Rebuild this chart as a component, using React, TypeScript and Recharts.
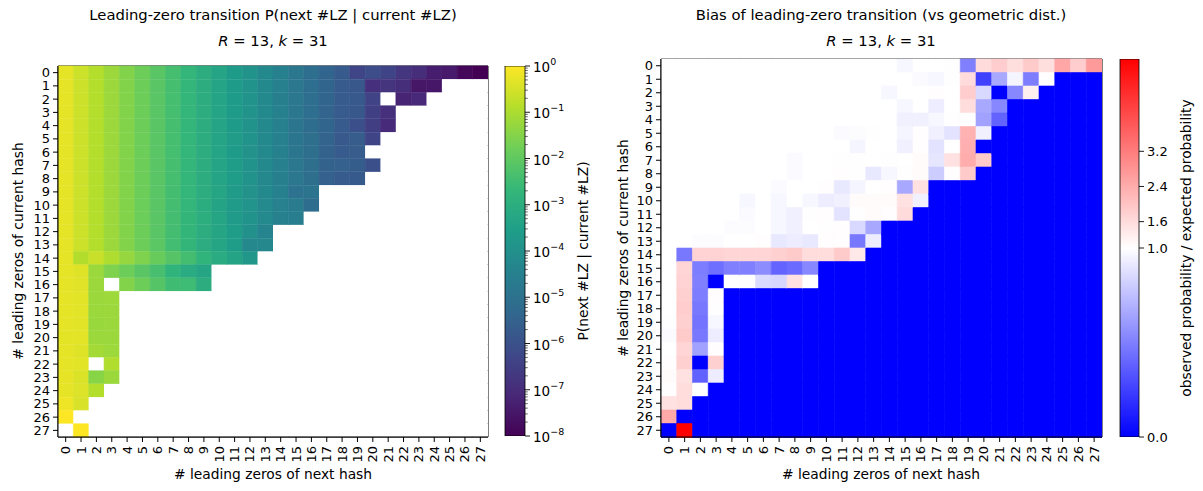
import React from 'react'
import { BarChart, Bar, Cell, XAxis, YAxis, ReferenceArea } from 'recharts'

const _ = null

// axis categories: leading-zero counts
const nextLZ = [0, 1, 2, 3, 4, 5, 6, 7, 8, 9, 10, 11, 12, 13, 14, 15, 16, 17, 18, 19, 20, 21, 22, 23, 24, 25, 26, 27]
const currentLZ = [0, 1, 2, 3, 4, 5, 6, 7, 8, 9, 10, 11, 12, 13, 14, 15, 16, 17, 18, 19, 20, 21, 22, 23, 24, 25, 26, 27]

// log10 P(next #LZ | current #LZ), one row per current #LZ (null = no observation)
const probLog10 = [
  [-0.30, -0.60, -0.90, -1.20, -1.51, -1.81, -2.11, -2.41, -2.71, -3.01, -3.31, -3.61, -3.91, -4.21, -4.52, -4.83, -5.12, -5.42, -5.71, -6.32, -6.12, -6.35, -6.73, -6.94, -7.33, -7.43, -7.86, -8.00],
  [-0.30, -0.60, -0.90, -1.20, -1.51, -1.81, -2.11, -2.41, -2.71, -3.01, -3.31, -3.61, -3.91, -4.21, -4.52, -4.82, -5.13, -5.43, -5.71, -5.82, -6.92, -6.80, -6.94, -7.53, -7.50, _, _, _],
  [-0.30, -0.60, -0.90, -1.20, -1.51, -1.81, -2.11, -2.41, -2.71, -3.01, -3.31, -3.61, -3.91, -4.21, -4.53, -4.82, -5.12, -5.41, -5.72, -5.75, -6.39, _, -7.20, -7.12, _, _, _, _],
  [-0.30, -0.60, -0.90, -1.20, -1.51, -1.81, -2.11, -2.41, -2.71, -3.01, -3.31, -3.61, -3.91, -4.21, -4.52, -4.83, -5.12, -5.45, -5.72, -5.82, -6.50, -6.90, _, _, _, _, _, _],
  [-0.30, -0.60, -0.90, -1.20, -1.51, -1.81, -2.11, -2.41, -2.71, -3.01, -3.31, -3.61, -3.91, -4.21, -4.52, -4.85, -5.15, -5.43, -5.72, -6.01, -6.52, -7.03, _, _, _, _, _, _],
  [-0.30, -0.60, -0.90, -1.20, -1.51, -1.81, -2.11, -2.41, -2.71, -3.01, -3.31, -3.62, -3.91, -4.21, -4.52, -4.84, -5.10, -5.45, -5.77, -5.66, -6.35, _, _, _, _, _, _, _],
  [-0.30, -0.60, -0.90, -1.20, -1.51, -1.81, -2.11, -2.41, -2.71, -3.01, -3.31, -3.61, -3.93, -4.21, -4.52, -4.85, -5.10, -5.47, -5.72, -5.65, _, _, _, _, _, _, _, _],
  [-0.30, -0.60, -0.90, -1.20, -1.51, -1.81, -2.11, -2.41, -2.72, -3.01, -3.31, -3.60, -3.91, -4.21, -4.52, -4.82, -5.09, -5.47, -5.54, -5.64, -6.04, _, _, _, _, _, _, _],
  [-0.30, -0.60, -0.90, -1.20, -1.51, -1.81, -2.11, -2.41, -2.72, -3.01, -3.31, -3.60, -3.90, -4.25, -4.53, -4.82, -5.09, -5.52, -5.70, -5.74, _, _, _, _, _, _, _, _],
  [-0.30, -0.60, -0.90, -1.20, -1.51, -1.81, -2.11, -2.42, -2.71, -3.01, -3.29, -3.65, -3.93, -4.21, -4.50, -5.00, -4.94, _, _, _, _, _, _, _, _, _, _, _],
  [-0.30, -0.60, -0.90, -1.20, -1.51, -1.82, -2.11, -2.42, -2.71, -3.02, -3.34, -3.64, -3.88, -4.18, -4.49, -4.64, -5.15, _, _, _, _, _, _, _, _, _, _, _],
  [-0.30, -0.60, -0.90, -1.20, -1.51, -1.82, -2.11, -2.42, -2.74, -3.00, -3.29, -3.66, -3.90, -4.18, -4.50, -4.62, _, _, _, _, _, _, _, _, _, _, _, _],
  [-0.30, -0.60, -0.90, -1.20, -1.51, -1.81, -2.11, -2.42, -2.74, -3.01, -3.30, -3.60, -3.98, -4.39, _, _, _, _, _, _, _, _, _, _, _, _, _, _],
  [-0.30, -0.60, -0.90, -1.20, -1.51, -1.81, -2.09, -2.45, -2.74, -3.05, -3.30, -3.60, -4.24, -4.24, _, _, _, _, _, _, _, _, _, _, _, _, _, _],
  [-0.30, -0.93, -0.66, -0.96, -1.28, -1.58, -1.88, -2.15, -2.43, -2.81, -3.11, -3.33, -3.77, _, _, _, _, _, _, _, _, _, _, _, _, _, _, _],
  [-0.30, -0.37, -1.21, -1.57, -1.81, -2.11, -2.37, -2.82, -3.09, -3.29, _, _, _, _, _, _, _, _, _, _, _, _, _, _, _, _, _, _],
  [-0.30, -0.36, -1.20, _, -1.51, -1.80, -2.18, -2.49, -2.53, -3.01, _, _, _, _, _, _, _, _, _, _, _, _, _, _, _, _, _, _],
  [-0.30, -0.34, -1.21, -1.19, _, _, _, _, _, _, _, _, _, _, _, _, _, _, _, _, _, _, _, _, _, _, _, _],
  [-0.30, -0.33, -1.23, -1.20, _, _, _, _, _, _, _, _, _, _, _, _, _, _, _, _, _, _, _, _, _, _, _, _],
  [-0.30, -0.34, -1.25, -1.21, _, _, _, _, _, _, _, _, _, _, _, _, _, _, _, _, _, _, _, _, _, _, _, _],
  [-0.31, -0.32, -1.23, -1.23, _, _, _, _, _, _, _, _, _, _, _, _, _, _, _, _, _, _, _, _, _, _, _, _],
  [-0.30, -0.37, -1.10, -1.19, _, _, _, _, _, _, _, _, _, _, _, _, _, _, _, _, _, _, _, _, _, _, _, _],
  [-0.29, -0.34, _, -0.94, _, _, _, _, _, _, _, _, _, _, _, _, _, _, _, _, _, _, _, _, _, _, _, _],
  [-0.27, -0.42, -1.45, -1.23, _, _, _, _, _, _, _, _, _, _, _, _, _, _, _, _, _, _, _, _, _, _, _, _],
  [-0.28, -0.40, -0.90, _, _, _, _, _, _, _, _, _, _, _, _, _, _, _, _, _, _, _, _, _, _, _, _, _],
  [-0.18, -0.47, _, _, _, _, _, _, _, _, _, _, _, _, _, _, _, _, _, _, _, _, _, _, _, _, _, _],
  [0.00, _, _, _, _, _, _, _, _, _, _, _, _, _, _, _, _, _, _, _, _, _, _, _, _, _, _, _],
  [_, 0.00, _, _, _, _, _, _, _, _, _, _, _, _, _, _, _, _, _, _, _, _, _, _, _, _, _, _],
]

// observed / expected probability, one row per current #LZ
const biasRatio = [
  [1, 1, 1, 1, 1, 1, 1, 1, 1, 1, 1, 1, 1, 1, 1, 0.97, 1, 1, 1.02, 0.5, 1.6, 1.85, 1.55, 1.9, 1.55, 2.5, 1.85, 2.7],
  [1, 1, 1, 1, 1, 1, 1, 1, 1, 1, 1, 1, 1, 1, 1, 1, 0.98, 0.97, 1.02, 1.6, 0.25, 0.66, 0.96, 0.49, 1.04, 0, 0, 0],
  [1, 1, 1, 1, 1, 1, 1, 1, 1, 1, 1, 1, 1, 1, 0.97, 1, 1, 1.03, 1, 1.85, 0.85, 0, 0.53, 1.25, 0, 0, 0, 0],
  [1, 1, 1, 1, 1, 1, 1, 1, 1, 1, 1, 1, 1, 1, 1, 0.97, 1, 0.93, 1, 1.58, 0.66, 0.53, 0, 0, 0, 0, 0, 0],
  [1, 1, 1, 1, 1, 1, 1, 1, 1, 1, 1, 1, 1, 1, 1, 0.94, 0.94, 0.97, 1.01, 1.02, 0.63, 0.39, 0, 0, 0, 0, 0, 0],
  [1, 1, 1, 1, 1, 1, 1, 1, 1, 1, 1, 0.98, 0.99, 1.01, 1, 0.96, 1.04, 0.94, 0.89, 2.3, 0.94, 0, 0, 0, 0, 0, 0, 0],
  [1, 1, 1, 1, 1, 1, 1, 1, 1, 1, 1, 1, 0.96, 1, 1, 0.94, 1.04, 0.89, 1, 2.35, 0, 0, 0, 0, 0, 0, 0, 0],
  [1, 1, 1, 1, 1, 1, 1, 1, 0.98, 1, 1, 1.02, 1.01, 1, 1.01, 1, 1.06, 0.9, 1.5, 2.4, 1.9, 0, 0, 0, 0, 0, 0, 0],
  [1, 1, 1, 1, 1, 1, 1, 1, 0.98, 1, 1, 1.03, 1.02, 0.91, 0.97, 1.01, 1.07, 0.8, 1.04, 1.9, 0, 0, 0, 0, 0, 0, 0, 0],
  [1, 1, 1, 1, 1, 1, 1, 0.98, 1, 1, 1.04, 0.91, 0.96, 1, 1.04, 0.66, 1.5, 0, 0, 0, 0, 0, 0, 0, 0, 0, 0, 0],
  [1, 1, 1, 1, 1, 0.97, 1, 0.97, 1, 0.97, 0.93, 0.94, 1.07, 1.07, 1.07, 1.5, 0.94, 0, 0, 0, 0, 0, 0, 0, 0, 0, 0, 0],
  [1, 1, 1, 1, 1, 0.98, 1, 0.97, 0.94, 1.02, 1.04, 0.89, 1.02, 1.07, 1.04, 1.6, 0, 0, 0, 0, 0, 0, 0, 0, 0, 0, 0, 0],
  [1, 1, 1, 1, 0.99, 0.99, 1, 0.97, 0.94, 1, 1.02, 1.03, 0.85, 0.66, 0, 0, 0, 0, 0, 0, 0, 0, 0, 0, 0, 0, 0, 0],
  [1, 1, 0.99, 0.99, 1, 1, 1.04, 0.91, 0.93, 0.91, 1.03, 1.03, 0.47, 0.93, 0, 0, 0, 0, 0, 0, 0, 0, 0, 0, 0, 0, 0, 0],
  [1, 0.47, 1.75, 1.75, 1.7, 1.7, 1.7, 1.8, 1.9, 1.58, 1.58, 1.9, 1.38, 0, 0, 0, 0, 0, 0, 0, 0, 0, 0, 0, 0, 0, 0, 0],
  [1, 1.7, 0.49, 0.43, 0.5, 0.5, 0.55, 0.39, 0.42, 0.53, 0, 0, 0, 0, 0, 0, 0, 0, 0, 0, 0, 0, 0, 0, 0, 0, 0, 0],
  [1, 1.75, 0.5, 0, 1, 1.02, 0.86, 0.84, 1.5, 1, 0, 0, 0, 0, 0, 0, 0, 0, 0, 0, 0, 0, 0, 0, 0, 0, 0, 0],
  [1, 1.8, 0.49, 1.03, 0, 0, 0, 0, 0, 0, 0, 0, 0, 0, 0, 0, 0, 0, 0, 0, 0, 0, 0, 0, 0, 0, 0, 0],
  [1, 1.85, 0.47, 1.01, 0, 0, 0, 0, 0, 0, 0, 0, 0, 0, 0, 0, 0, 0, 0, 0, 0, 0, 0, 0, 0, 0, 0, 0],
  [1.01, 1.8, 0.45, 0.97, 0, 0, 0, 0, 0, 0, 0, 0, 0, 0, 0, 0, 0, 0, 0, 0, 0, 0, 0, 0, 0, 0, 0, 0],
  [0.98, 1.9, 0.47, 0.93, 0, 0, 0, 0, 0, 0, 0, 0, 0, 0, 0, 0, 0, 0, 0, 0, 0, 0, 0, 0, 0, 0, 0, 0],
  [1, 1.7, 0.63, 1.03, 0, 0, 0, 0, 0, 0, 0, 0, 0, 0, 0, 0, 0, 0, 0, 0, 0, 0, 0, 0, 0, 0, 0, 0],
  [1.03, 1.8, 0, 1.8, 0, 0, 0, 0, 0, 0, 0, 0, 0, 0, 0, 0, 0, 0, 0, 0, 0, 0, 0, 0, 0, 0, 0, 0],
  [1.06, 1.5, 0.38, 0.93, 0, 0, 0, 0, 0, 0, 0, 0, 0, 0, 0, 0, 0, 0, 0, 0, 0, 0, 0, 0, 0, 0, 0, 0],
  [1.04, 1.58, 1, 0, 0, 0, 0, 0, 0, 0, 0, 0, 0, 0, 0, 0, 0, 0, 0, 0, 0, 0, 0, 0, 0, 0, 0, 0],
  [1.5, 1.58, 0, 0, 0, 0, 0, 0, 0, 0, 0, 0, 0, 0, 0, 0, 0, 0, 0, 0, 0, 0, 0, 0, 0, 0, 0, 0],
  [2.45, 0, 0, 0, 0, 0, 0, 0, 0, 0, 0, 0, 0, 0, 0, 0, 0, 0, 0, 0, 0, 0, 0, 0, 0, 0, 0, 0],
  [0, 5.3, 0, 0, 0, 0, 0, 0, 0, 0, 0, 0, 0, 0, 0, 0, 0, 0, 0, 0, 0, 0, 0, 0, 0, 0, 0, 0],
]

// colorbar ticks
const probCbarExps = [-8, -7, -6, -5, -4, -3, -2, -1, 0]
const ratioCbarTicks = [0.0, 1.0, 1.6, 2.4, 3.2]

const FONT = "'DejaVu Sans', Verdana, sans-serif"
const TICK_FS = 13
const LABEL_FS = 13.8
const TITLE_FS = 14.8

const viridisStops = ['#440154', '#482878', '#3e4989', '#31688e', '#26828e', '#1f9e89', '#35b779', '#6ece58', '#b5de2b', '#fde725']

function hexToRgb(h: string) {
  return [parseInt(h.slice(1, 3), 16), parseInt(h.slice(3, 5), 16), parseInt(h.slice(5, 7), 16)]
}

function viridis(t: number) {
  const c = Math.max(0, Math.min(1, t))
  const p = c * (viridisStops.length - 1)
  const k = Math.min(Math.floor(p), viridisStops.length - 2)
  const f = p - k
  const a = hexToRgb(viridisStops[k])
  const b = hexToRgb(viridisStops[k + 1])
  const m = a.map((v, n) => Math.round(v + (b[n] - v) * f))
  return `rgb(${m[0]},${m[1]},${m[2]})`
}

// two-slope norm: 0 -> 0, 1 -> 0.5, max -> 1
const ratioMax = Math.max(...biasRatio.flat())
function ratioNorm(v: number) {
  if (v <= 1) return 0.5 * v
  return 0.5 + 0.5 * (v - 1) / (ratioMax - 1)
}

function bwr(t: number) {
  const c = Math.max(0, Math.min(1, t))
  if (c < 0.5) {
    const g = Math.round(c * 2 * 255)
    return `rgb(${g},${g},255)`
  }
  const g = Math.round((1 - c) * 2 * 255)
  return `rgb(255,${g},${g})`
}

const cellKeys = nextLZ.map((j) => `c${j}`)
const heatTable = currentLZ.map((i) => {
  const row: Record<string, number> = { row: i }
  nextLZ.forEach((j) => { row[`c${j}`] = 1 })
  return row
})
const colTicks = nextLZ.map((j) => j + 0.5)

function RowTick(props: any) {
  const { x, y, payload } = props
  return (
    <text x={x} y={y} textAnchor="end" dominantBaseline="central" fontSize={TICK_FS} fontFamily={FONT} fill="#000">
      {payload.value}
    </text>
  )
}

function ColTick(props: any) {
  const { x, y, payload } = props
  return (
    <text transform={`translate(${x},${y}) rotate(-90)`} textAnchor="end" dominantBaseline="central" fontSize={TICK_FS} fontFamily={FONT} fill="#000">
      {Math.round(payload.value - 0.5)}
    </text>
  )
}

function LogTick(props: any) {
  const { x, y, payload } = props
  const v = payload.value
  const exp = Math.round(v)
  const major = Math.abs(v - exp) < 1e-9
  return (
    <g>
      <line x1={x} x2={x + (major ? 5 : 2.8)} y1={y} y2={y} stroke="#000" strokeWidth={major ? 0.9 : 0.6} />
      {major && (
        <text x={x + 8} y={y + 1} dominantBaseline="central" fontSize={TICK_FS + 0.5} fontFamily={FONT} fill="#000">
          10
          <tspan dy={-6} fontSize={9.5}>{exp < 0 ? `\u2212${-exp}` : `${exp}`}</tspan>
        </text>
      )}
    </g>
  )
}

function RatioTick(props: any) {
  const { x, y, index } = props
  return (
    <g>
      <line x1={x} x2={x + 5} y1={y} y2={y} stroke="#000" strokeWidth={0.9} />
      <text x={x + 8} y={y} dominantBaseline="central" fontSize={TICK_FS} fontFamily={FONT} fill="#000">
        {ratioCbarTicks[index].toFixed(1)}
      </text>
    </g>
  )
}

function Heatmap({ width, margin, colorOf }: { width: number; margin: any; colorOf: (i: number, j: number) => string | null }) {
  return (
    <BarChart width={width} height={491} layout="vertical" data={heatTable} margin={margin} barCategoryGap={0} barGap={0}>
      <XAxis type="number" domain={[0, 28]} ticks={colTicks} interval={0} height={54} tickSize={5} tickMargin={4}
        stroke="#000" tick={(p: any) => <ColTick {...p} />} allowDataOverflow />
      <YAxis type="category" dataKey="row" width={35} interval={0} tickSize={5} tickMargin={3}
        stroke="#000" tick={(p: any) => <RowTick {...p} />} />
      {cellKeys.map((key, j) => (
        <Bar key={key} dataKey={key} stackId="cells" isAnimationActive={false}>
          {currentLZ.map((i) => {
            const c = colorOf(i, j)
            return <Cell key={i} fill={c ?? '#ffffff'} stroke={c ?? 'none'} strokeWidth={0.6} />
          })}
        </Bar>
      ))}
      <ReferenceArea x1={0} x2={28} fill="none" stroke="#000" strokeWidth={1} ifOverflow="visible" />
    </BarChart>
  )
}

function probColor(i: number, j: number) {
  const v = probLog10[i][j]
  return v == null ? null : viridis((v + 8) / 8)
}

function ratioColor(i: number, j: number) {
  return bwr(ratioNorm(biasRatio[i][j]))
}

const logTicks: number[] = []
probCbarExps.forEach((e) => {
  logTicks.push(e)
  if (e < 0) [2, 3, 4, 5, 6, 7, 8, 9].forEach((m) => logTicks.push(e + Math.log10(m)))
})

export default function App() {
  const text = { fontFamily: FONT, fill: '#000' }
  return (
    <div style={{ position: 'absolute', left: 0, top: 0, width: 1203, height: 491, background: '#fff', overflow: 'hidden' }}>
      <div style={{ position: 'absolute', left: 0, top: 0 }}>
        <Heatmap width={500} margin={{ top: 66, right: 12, bottom: 0, left: 23 }} colorOf={probColor} />
      </div>
      <div style={{ position: 'absolute', left: 490, top: 0 }}>
        <BarChart width={110} height={491} data={[{ name: 'cb', span: [-8, 0] }]} margin={{ top: 66, right: 0, bottom: 55, left: 15 }} barCategoryGap={0}>
          <defs>
            <linearGradient id="viridisBar" x1="0" y1="1" x2="0" y2="0">
              {viridisStops.map((c, k) => <stop key={k} offset={k / (viridisStops.length - 1)} stopColor={c} />)}
            </linearGradient>
          </defs>
          <XAxis dataKey="name" hide />
          <YAxis orientation="right" type="number" domain={[-8, 0]} ticks={logTicks} interval={0} width={75}
            tickSize={0} tickMargin={0} axisLine={false} tickLine={false} tick={(p: any) => <LogTick {...p} />} allowDataOverflow />
          <Bar dataKey="span" fill="url(#viridisBar)" stroke="#000" strokeWidth={0.8} isAnimationActive={false} />
        </BarChart>
      </div>
      <div style={{ position: 'absolute', left: 600, top: 0 }}>
        <Heatmap width={515} margin={{ top: 59, right: 13, bottom: 0, left: 26 }} colorOf={ratioColor} />
      </div>
      <div style={{ position: 'absolute', left: 1105, top: 0 }}>
        <BarChart width={98} height={491} data={[{ name: 'cb', span: [0, 1] }]} margin={{ top: 59, right: 0, bottom: 54, left: 15 }} barCategoryGap={0}>
          <defs>
            <linearGradient id="bwrBar" x1="0" y1="1" x2="0" y2="0">
              <stop offset={0} stopColor="#0000ff" />
              <stop offset={0.5} stopColor="#ffffff" />
              <stop offset={1} stopColor="#ff0000" />
            </linearGradient>
          </defs>
          <XAxis dataKey="name" hide />
          <YAxis orientation="right" type="number" domain={[0, 1]} ticks={ratioCbarTicks.map(ratioNorm)} interval={0} width={64}
            tickSize={0} tickMargin={0} axisLine={false} tickLine={false} tick={(p: any) => <RatioTick {...p} />} allowDataOverflow />
          <Bar dataKey="span" fill="url(#bwrBar)" stroke="#000" strokeWidth={0.8} isAnimationActive={false} />
        </BarChart>
      </div>
      <svg width={1203} height={491} style={{ position: 'absolute', left: 0, top: 0, pointerEvents: 'none' }}>
        <text x={273} y={14} textAnchor="middle" dominantBaseline="central" fontSize={TITLE_FS} {...text}>
          Leading-zero transition P(next #LZ | current #LZ)
        </text>
        <text x={273} y={40} textAnchor="middle" dominantBaseline="central" fontSize={TITLE_FS} {...text}>
          <tspan fontStyle="italic">R</tspan> = 13, <tspan fontStyle="italic">k</tspan> = 31
        </text>
        <text x={881} y={14} textAnchor="middle" dominantBaseline="central" fontSize={TITLE_FS} {...text}>
          Bias of leading-zero transition (vs geometric dist.)
        </text>
        <text x={881} y={40} textAnchor="middle" dominantBaseline="central" fontSize={TITLE_FS} {...text}>
          <tspan fontStyle="italic">R</tspan> = 13, <tspan fontStyle="italic">k</tspan> = 31
        </text>
        <text x={273} y={474} textAnchor="middle" dominantBaseline="central" fontSize={LABEL_FS} {...text}>
          # leading zeros of next hash
        </text>
        <text x={881} y={474} textAnchor="middle" dominantBaseline="central" fontSize={LABEL_FS} {...text}>
          # leading zeros of next hash
        </text>
        <text transform="translate(18,251) rotate(-90)" textAnchor="middle" dominantBaseline="central" fontSize={LABEL_FS} {...text}>
          # leading zeros of current hash
        </text>
        <text transform="translate(623,248) rotate(-90)" textAnchor="middle" dominantBaseline="central" fontSize={LABEL_FS} {...text}>
          # leading zeros of current hash
        </text>
        <text transform="translate(583,251) rotate(-90)" textAnchor="middle" dominantBaseline="central" fontSize={LABEL_FS} {...text}>
          P(next #LZ | current #LZ)
        </text>
        <text transform="translate(1186,248) rotate(-90)" textAnchor="middle" dominantBaseline="central" fontSize={LABEL_FS} {...text}>
          observed probability / expected probability
        </text>
      </svg>
    </div>
  )
}
